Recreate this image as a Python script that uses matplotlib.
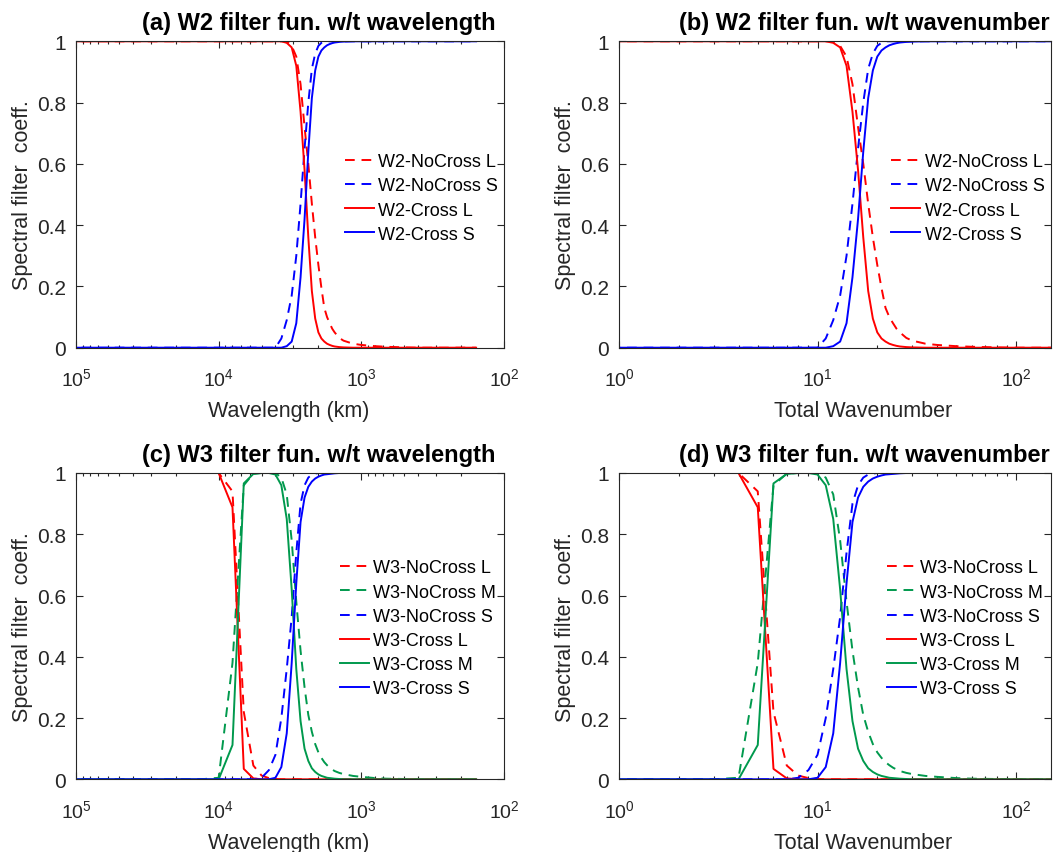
import numpy as np
import matplotlib
matplotlib.use("Agg")
import matplotlib.pyplot as plt

plt.rcParams['font.family'] = ['Liberation Sans', 'DejaVu Sans']
plt.rcParams['mathtext.fontset'] = 'custom'
plt.rcParams['mathtext.rm'] = 'Liberation Sans'
plt.rcParams['mathtext.it'] = 'Liberation Sans:italic'

# total wavenumber grid (0 stands for the largest scale)
wavenumber = [0, 1, 2, 3, 4, 5, 6, 7, 8, 9,
              10, 11, 12, 13, 14, 15, 16, 17, 18, 19,
              20, 21, 22, 23, 24, 25, 26,
              28, 30, 35, 40, 50, 60, 80, 100, 150, 255]

# W2 filter coefficients
w2_nocross_L = [1, 1, 1, 1, 1, 1, 1, 1, 1, 1,
                1, 1, 1, .985, .95, .86, .72, .60, .47, .36,
                .27, .195, .13, .10, .08, .062, .05,
                .032, .023, .013, .009, .005, .003, .001, 0, 0, 0]
w2_nocross_S = [0, 0, 0, 0, 0, 0, 0, 0, 0, 0,
                0, .03, .09, .17, .30, .47, .65, .80, .91, .96,
                .985, .995, 1, 1, 1, 1, 1,
                1, 1, 1, 1, 1, 1, 1, 1, 1, 1]
w2_cross_L = [1, 1, 1, 1, 1, 1, 1, 1, 1, 1,
              1, 1, .995, .98, .92, .77, .58, .36, .185, .095,
              .05, .03, .02, .013, .009, .006, .004,
              .002, .001, 0, 0, 0, 0, 0, 0, 0, 0]
w2_cross_S = [0, 0, 0, 0, 0, 0, 0, 0, 0, 0,
              0, 0, .005, .02, .08, .23, .42, .64, .815, .905,
              .95, .97, .98, .987, .991, .994, .996,
              .998, .999, 1, 1, 1, 1, 1, 1, 1, 1]

# W3 filter coefficients
w3_nocross_L = [1, 1, 1, 1, 1, .94, .22, .045, .012, .004,
                .001, 0, 0, 0, 0, 0, 0, 0, 0, 0,
                0, 0, 0, 0, 0, 0, 0,
                0, 0, 0, 0, 0, 0, 0, 0, 0, 0]
w3_nocross_M = [0, 0, 0, 0, .005, .38, .96, .998, 1, 1,
                1, .985, .93, .78, .58, .42, .30, .21, .155, .115,
                .088, .07, .056, .046, .038, .032, .027,
                .021, .017, .011, .008, .004, .002, .001, 0, 0, 0]
w3_nocross_S = [0, 0, 0, 0, 0, 0, 0, 0, .005, .03,
                .08, .2, .36, .53, .74, .9, .96, .985, .995, .998,
                1, 1, 1, 1, 1, 1, 1,
                1, 1, 1, 1, 1, 1, 1, 1, 1, 1]
w3_cross_L = [1, 1, 1, 1, 1, .888, .034, .003, 0, 0,
              0, 0, 0, 0, 0, 0, 0, 0, 0, 0,
              0, 0, 0, 0, 0, 0, 0,
              0, 0, 0, 0, 0, 0, 0, 0, 0, 0]
w3_cross_M = [0, 0, 0, 0, 0, .112, .966, .997, 1, 1,
              .995, .96, .85, .62, .36, .19, .10, .06, .036, .024,
              .016, .011, .008, .005, .004, .003, .002,
              .001, 0, 0, 0, 0, 0, 0, 0, 0, 0]
w3_cross_S = [0, 0, 0, 0, 0, 0, 0, 0, 0, 0,
              .005, .04, .15, .38, .64, .84, .92, .955, .972, .982,
              .988, .992, .995, .996, .997, .998, .999,
              1, 1, 1, 1, 1, 1, 1, 1, 1, 1]

titles = ['(a) W2 filter fun. w/t wavelength', '(b) W2 filter fun. w/t wavenumber',
          '(c) W3 filter fun. w/t wavelength', '(d) W3 filter fun. w/t wavenumber']

n = np.array(wavenumber, dtype=float)
wavelength = 40000.0 / np.clip(n, 0.1, None)   # km

RED = (1, 0, 0)
GREEN = (0, 0.6, 0.3)
BLUE = (0, 0, 1)
AXC = '#262626'
DASH = (0, (5, 3.5))
LW = 1.4

W, H = 1056, 853
fig = plt.figure(figsize=(W / 100, H / 100), dpi=100)


def make_axes(left, top, right, bottom):
    return fig.add_axes([left / W, 1 - bottom / H, (right - left) / W, (bottom - top) / H])


ax_a = make_axes(76, 42.3, 504, 348.7)
ax_b = make_axes(619, 42.3, 1051, 348.7)
ax_c = make_axes(76, 474, 504, 780.3)
ax_d = make_axes(619, 474, 1051, 780.3)


def style(ax, title, xlabel, xlabel_x):
    ax.set_xscale('log')
    ax.set_ylim(0, 1)
    ax.set_yticks([0, .2, .4, .6, .8, 1])
    ax.set_yticklabels(['0', '0.2', '0.4', '0.6', '0.8', '1'])
    ax.tick_params(which='both', direction='in', top=True, right=True,
                   colors=AXC, width=0.8)
    ax.tick_params(which='major', length=5)
    ax.tick_params(which='minor', length=2.5)
    ax.tick_params(axis='x', pad=14, labelsize=14)
    ax.tick_params(axis='y', pad=7, labelsize=15)
    for s in ax.spines.values():
        s.set_color(AXC)
        s.set_linewidth(0.8)
    ax.text(0.568, 1.04, title, transform=ax.transAxes, ha='center', va='baseline',
            fontsize=17, fontweight='bold', color='black')
    ax.set_xlabel(xlabel, fontsize=15.5, color=AXC)
    ax.xaxis.set_label_coords(xlabel_x, -0.172)
    ax.set_ylabel('Spectral filter  coeff.', fontsize=15.5, color=AXC)
    ax.yaxis.set_label_coords(-0.098 * 437 / (ax.bbox.width), 0.5)


def legend(ax, x, y):
    ax.legend(loc='upper left', bbox_to_anchor=(x, y), frameon=False, fontsize=13,
              handlelength=1.6, handletextpad=0.25, labelspacing=0.4,
              borderaxespad=0, borderpad=0)


# (a) W2 vs wavelength
ax = ax_a
ax.plot(wavelength, w2_nocross_L, color=RED, lw=LW, ls=DASH, label='W2-NoCross L')
ax.plot(wavelength, w2_nocross_S, color=BLUE, lw=LW, ls=DASH, label='W2-NoCross S')
ax.plot(wavelength, w2_cross_L, color=RED, lw=LW, label='W2-Cross L')
ax.plot(wavelength, w2_cross_S, color=BLUE, lw=LW, label='W2-Cross S')
ax.set_xlim(1e5, 1e2)
style(ax, titles[0], 'Wavelength (km)', 0.498)
legend(ax, (345 - 76) / 428, 0.635)

# (b) W2 vs wavenumber
ax = ax_b
ax.plot(n, w2_nocross_L, color=RED, lw=LW, ls=DASH, label='W2-NoCross L')
ax.plot(n, w2_nocross_S, color=BLUE, lw=LW, ls=DASH, label='W2-NoCross S')
ax.plot(n, w2_cross_L, color=RED, lw=LW, label='W2-Cross L')
ax.plot(n, w2_cross_S, color=BLUE, lw=LW, label='W2-Cross S')
ax.set_xlim(1, 150)
style(ax, titles[1], 'Total Wavenumber', 0.565)
legend(ax, 0.63, 0.635)

# (c) W3 vs wavelength
ax = ax_c
ax.plot(wavelength, w3_nocross_L, color=RED, lw=LW, ls=DASH, label='W3-NoCross L')
ax.plot(wavelength, w3_nocross_M, color=GREEN, lw=LW, ls=DASH, label='W3-NoCross M')
ax.plot(wavelength, w3_nocross_S, color=BLUE, lw=LW, ls=DASH, label='W3-NoCross S')
ax.plot(wavelength, w3_cross_L, color=RED, lw=LW, label='W3-Cross L')
ax.plot(wavelength, w3_cross_M, color=GREEN, lw=LW, label='W3-Cross M')
ax.plot(wavelength, w3_cross_S, color=BLUE, lw=LW, label='W3-Cross S')
ax.set_xlim(1e5, 1e2)
style(ax, titles[2], 'Wavelength (km)', 0.498)
legend(ax, (340 - 76) / 428, 0.718)

# (d) W3 vs wavenumber
ax = ax_d
ax.plot(n, w3_nocross_L, color=RED, lw=LW, ls=DASH, label='W3-NoCross L')
ax.plot(n, w3_nocross_M, color=GREEN, lw=LW, ls=DASH, label='W3-NoCross M')
ax.plot(n, w3_nocross_S, color=BLUE, lw=LW, ls=DASH, label='W3-NoCross S')
ax.plot(n, w3_cross_L, color=RED, lw=LW, label='W3-Cross L')
ax.plot(n, w3_cross_M, color=GREEN, lw=LW, label='W3-Cross M')
ax.plot(n, w3_cross_S, color=BLUE, lw=LW, label='W3-Cross S')
ax.set_xlim(1, 150)
style(ax, titles[3], 'Total Wavenumber', 0.565)
legend(ax, 0.62, 0.718)

fig.savefig('out.png', dpi=100, facecolor='white')
